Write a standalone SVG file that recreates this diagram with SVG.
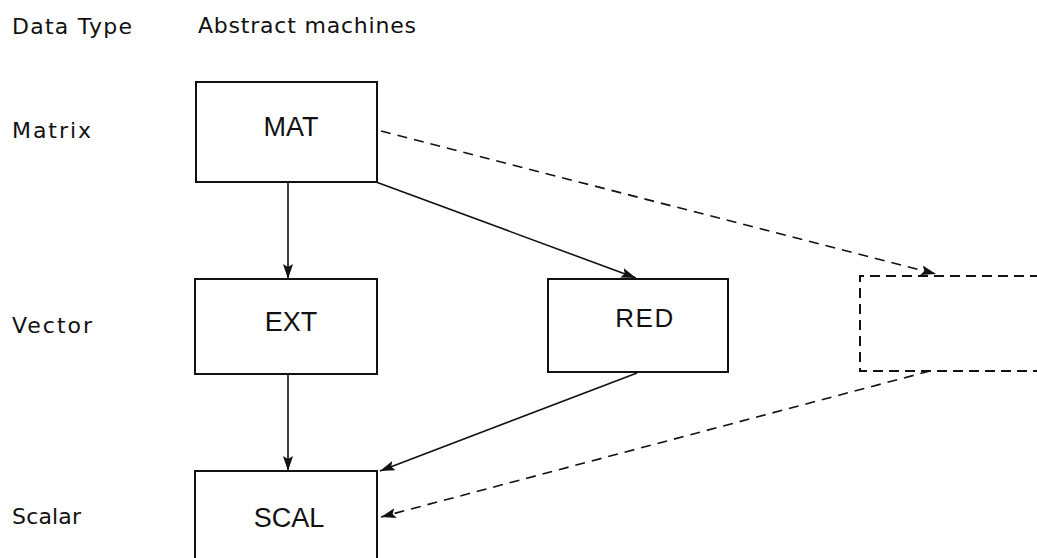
<svg xmlns="http://www.w3.org/2000/svg" width="1037" height="558" viewBox="0 0 1037 558">
<style>
.lbl{font-family:"DejaVu Sans","Liberation Sans",sans-serif;font-size:22px;fill:#111}
.nt{font-family:"Liberation Sans",Arial,sans-serif;font-size:27px;fill:#111;text-anchor:middle}
.box{fill:none;stroke:#111;stroke-width:2}
.dbox{fill:none;stroke:#111;stroke-width:2;stroke-dasharray:10 6}
.e{fill:none;stroke:#111;stroke-width:1.6}
.d{fill:none;stroke:#111;stroke-width:1.6;stroke-dasharray:10 7}
</style>
<defs>
<marker id="ah" viewBox="0 0 15 10" refX="15" refY="5" markerWidth="15" markerHeight="10" markerUnits="userSpaceOnUse" orient="auto">
<path d="M0,0 L15,5 L0,10 L3,5 Z" fill="#111"/>
</marker>
</defs>
<rect width="1037" height="558" fill="#fff"/>
<g id="headers">
<text class="lbl" x="12" y="34" textLength="120" lengthAdjust="spacing">Data Type</text>
<text class="lbl" x="198" y="33" textLength="218" lengthAdjust="spacing">Abstract machines</text>
<text class="lbl" x="12" y="138" textLength="79" lengthAdjust="spacing">Matrix</text>
<text class="lbl" x="12" y="333" textLength="80" lengthAdjust="spacing">Vector</text>
<text class="lbl" x="12" y="524" textLength="69" lengthAdjust="spacing">Scalar</text>
</g>
<g id="connectors">
<line class="e" x1="288" y1="182" x2="288" y2="279" marker-end="url(#ah)"/>
<line class="e" x1="288" y1="374" x2="288" y2="471" marker-end="url(#ah)"/>
<line class="e" x1="376" y1="182" x2="636" y2="278" marker-end="url(#ah)"/>
<line class="e" x1="637" y1="373" x2="380" y2="471" marker-end="url(#ah)"/>
<line class="d" x1="381" y1="131" x2="936" y2="274" marker-end="url(#ah)"/>
<line class="d" x1="930" y1="371" x2="381" y2="517" marker-end="url(#ah)"/>
</g>
<g id="MAT">
<rect class="box" x="196" y="82" width="181" height="100"/>
<text class="nt" x="291" y="136">MAT</text>
</g>
<g id="EXT">
<rect class="box" x="195" y="279" width="182" height="95"/>
<text class="nt" x="291" y="331">EXT</text>
</g>
<g id="RED">
<rect class="box" x="548" y="279" width="180" height="93"/>
<text class="nt" x="645" y="327" style="font-size:26px;letter-spacing:1.5px">RED</text>
</g>
<g id="SCAL">
<rect class="box" x="195" y="471" width="182" height="100"/>
<text class="nt" x="289" y="527">SCAL</text>
</g>
<g id="empty">
<path class="dbox" d="M1040,276 L860,276 L860,371 L1040,371"/>
</g>
</svg>
